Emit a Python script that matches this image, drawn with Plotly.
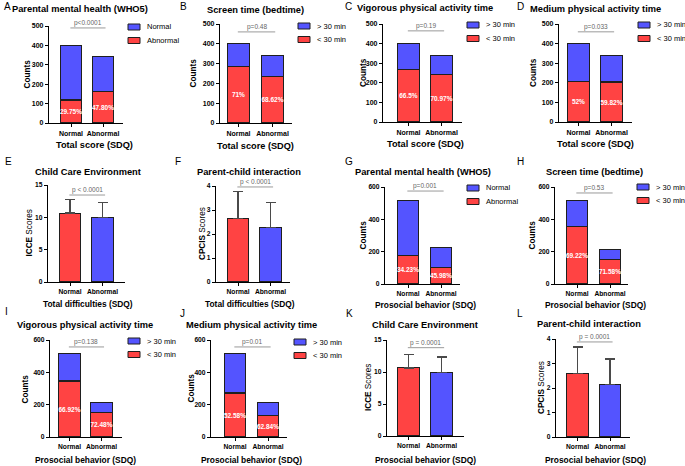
import plotly.graph_objects as go

W, H = 685, 466
RED = "#FF4343"
BLUE = "#5454FF"
EDGE = "#1f1f1f"
FONT = "Liberation Sans, Arial, sans-serif"

categories = ["Normal", "Abnormal"]

# ---- stacked count panels: totals and lower (red) segment ----
A_total = [400, 341]; A_red = [119, 163]; A_pct = ["29.75%", "47.80%"]
B_total = [400, 341]; B_red = [284, 234]; B_pct = ["71%", "68.62%"]
C_total = [400, 341]; C_red = [266, 242]; C_pct = ["66.5%", "70.97%"]
D_total = [400, 341]; D_red = [208, 204]; D_pct = ["52%", "59.82%"]
G_total = [517, 224]; G_red = [177, 103]; G_pct = ["34.23%", "45.98%"]
H_total = [517, 215]; H_red = [358, 154]; H_pct = ["69.22%", "71.58%"]
I_total = [517, 212]; I_red = [346, 154]; I_pct = ["66.92%", "72.48%"]
J_total = [517, 212]; J_red = [272, 133]; J_pct = ["52.58%", "62.84%"]

# ---- mean +/- SD panels ----
E_mean = [10.65, 10.0]; E_sd = [2.15, 2.3]
F_mean = [2.65, 2.28]; F_sd = [1.13, 1.03]
K_mean = [10.65, 9.9]; K_sd = [2.1, 2.45]
L_mean = [2.6, 2.15]; L_sd = [1.07, 1.04]

# p-values
p_text = {"A": "p<0.0001", "B": "p=0.48", "C": "p=0.19", "D": "p=0.033",
          "E": "p < 0.0001", "F": "p < 0.0001", "G": "p=0.001", "H": "p=0.53",
          "I": "p=0.138", "J": "p=0.01", "K": "p = 0.0001", "L": "p = 0.0001"}

# ---- panel layout (pixel geometry) ----
panels = [
    dict(k="A", kind="stack", total=A_total, red=A_red, pct=A_pct, names=["Abnormal", "Normal"],
         title="Parental mental health (WHO5)", xt="Total score (SDQ)", yt="<b>Counts</b>",
         axL=49, axR=123, cN=71, cA=103, top=26, bot=123, ymax=500, dt=100,
         tx=80, ty=9, lx=2, ly=7, xtx=94, xty=145, ytx=27, leg=(128, 27), sig=490, xts=9.2),
    dict(k="B", kind="stack", total=B_total, red=B_red, pct=B_pct, names=["< 30 min", "> 30 min"],
         title="Screen time (bedtime)", xt="Total score (SDQ)", yt="<b>Counts</b>",
         axL=220, axR=292, cN=238.5, cA=272.5, top=24, bot=123, ymax=500, dt=100,
         tx=255, ty=10, lx=178, ly=6, xtx=255, xty=146, ytx=193, leg=(298, 26), sig=460, xts=9.2),
    dict(k="C", kind="stack", total=C_total, red=C_red, pct=C_pct, names=["< 30 min", "> 30 min"],
         title="Vigorous physical activity time", xt="Total score (SDQ)", yt="<b>Counts</b>",
         axL=383, axR=462, cN=408.5, cA=441.5, top=24, bot=122, ymax=500, dt=100,
         tx=425, ty=8, lx=343, ly=6, xtx=425, xty=144, ytx=364, leg=(467, 25), sig=465, xts=9.2),
    dict(k="D", kind="stack", total=D_total, red=D_red, pct=D_pct, names=["< 30 min", "> 30 min"],
         title="Medium physical activity time", xt="Total score (SDQ)", yt="<b>Counts</b>",
         axL=559, axR=632, cN=578.5, cA=611.5, top=24, bot=122, ymax=500, dt=100,
         tx=595, ty=9, lx=515, ly=6, xtx=595, xty=144, ytx=534, leg=(638, 25), sig=460, xts=9.2),
    dict(k="E", kind="mean", mean=E_mean, sd=E_sd,
         title="Child Care Environment", xt="Total difficulties (SDQ)", yt="<b>ICCE</b> Scores",
         axL=48, axR=125, cN=70, cA=102.5, top=185, bot=282, ymax=15, dt=5,
         tx=88, ty=172, lx=3, ly=162, xtx=88, xty=304, ytx=29, leg=None, sig=13.45, xts=8.4),
    dict(k="F", kind="mean", mean=F_mean, sd=F_sd,
         title="Parent-child interaction", xt="Total difficulties (SDQ)", yt="<b>CPCIS</b> Scores",
         axL=216, axR=290, cN=238, cA=270.5, top=186, bot=282, ymax=4, dt=1,
         tx=249, ty=172, lx=173, ly=162, xtx=250, xty=304, ytx=202, leg=None, sig=3.96, xts=8.4),
    dict(k="G", kind="stack", total=G_total, red=G_red, pct=G_pct, names=["Abnormal", "Normal"],
         title="Parental mental health (WHO5)", xt="Prosocial behavior (SDQ)", yt="<b>Counts</b>",
         axL=385, axR=460, cN=408, cA=441, top=187, bot=284, ymax=600, dt=200,
         tx=423, ty=172, lx=343, ly=161, xtx=425, xty=305, ytx=363, leg=(467, 188), sig=575, xts=8.4),
    dict(k="H", kind="stack", total=H_total, red=H_red, pct=H_pct, names=["< 30 min", "> 30 min"],
         title="Screen time (bedtime)", xt="Prosocial behavior (SDQ)", yt="<b>Counts</b>",
         axL=555, axR=628, cN=577, cA=610, top=187, bot=284, ymax=600, dt=200,
         tx=594, ty=172, lx=515, ly=161, xtx=595, xty=305, ytx=532, leg=(637, 187), sig=563, xts=8.4),
    dict(k="I", kind="stack", total=I_total, red=I_red, pct=I_pct, names=["< 30 min", "> 30 min"],
         title="Vigorous physical activity time", xt="Prosocial behavior (SDQ)", yt="<b>Counts</b>",
         axL=50, axR=122, cN=69.5, cA=101.5, top=340, bot=437, ymax=600, dt=200,
         tx=85, ty=325, lx=3, ly=311, xtx=85, xty=460, ytx=25, leg=(128, 341), sig=557, xts=8.4),
    dict(k="J", kind="stack", total=J_total, red=J_red, pct=J_pct, names=["< 30 min", "> 30 min"],
         title="Medium physical activity time", xt="Prosocial behavior (SDQ)", yt="<b>Counts</b>",
         axL=211, axR=287, cN=235, cA=268, top=340, bot=437, ymax=600, dt=200,
         tx=251, ty=325, lx=178, ly=313, xtx=252, xty=460, ytx=191, leg=(294, 342), sig=557, xts=8.4),
    dict(k="K", kind="mean", mean=K_mean, sd=K_sd,
         title="Child Care Environment", xt="Prosocial behavior (SDQ)", yt="<b>ICCE</b> Scores",
         axL=387, axR=464, cN=408.5, cA=441.5, top=340, bot=436, ymax=15, dt=5,
         tx=425, ty=325, lx=344, ly=313, xtx=425, xty=460, ytx=368, leg=None, sig=13.8, xts=8.4),
    dict(k="L", kind="mean", mean=L_mean, sd=L_sd,
         title="Parent-child interaction", xt="Prosocial behavior (SDQ)", yt="<b>CPCIS</b> Scores",
         axL=556, axR=630, cN=577.5, cA=610, top=339, bot=437, ymax=4, dt=1,
         tx=589, ty=324, lx=515, ly=313, xtx=595, xty=460, ytx=541, leg=None, sig=3.88, xts=8.4),
]

fig = go.Figure()
annotations = []
shapes = []
layout = {}


def fx(px):
    return px / W


def fy(py):
    return 1 - py / H


for i, p in enumerate(panels, start=1):
    sfx = "" if i == 1 else str(i)
    xref, yref = "x" + sfx, "y" + sfx
    unit = p["cA"] - p["cN"]
    xr = [(p["axL"] - p["cN"]) / unit, (p["axR"] - p["cN"]) / unit]
    bw = 21.5 / unit

    if p["kind"] == "stack":
        blue_vals = [t - r for t, r in zip(p["total"], p["red"])]
        fig.add_trace(go.Bar(
            x=categories, y=p["red"], name=p["names"][0], width=bw,
            marker=dict(color=RED, line=dict(color=EDGE, width=1.2)),
            text=p["pct"], textposition="inside", insidetextanchor="middle",
            textangle=0, constraintext="none",
            textfont=dict(family=FONT, size=6.5, color="white", weight="bold"),
            xaxis=xref, yaxis=yref, showlegend=False))
        fig.add_trace(go.Bar(
            x=categories, y=blue_vals, name=p["names"][1], width=bw,
            marker=dict(color=BLUE, line=dict(color=EDGE, width=1.2)),
            xaxis=xref, yaxis=yref, showlegend=False))
        # key: top entry = upper (blue) series, bottom entry = lower (red) series
        lx, ly = p["leg"]
        for j, (col, nm) in enumerate([(BLUE, p["names"][1]), (RED, p["names"][0])]):
            cy = ly + j * 13.5
            shapes.append(dict(type="rect", xref="paper", yref="paper",
                               x0=fx(lx), x1=fx(lx + 12), y0=fy(cy + 3), y1=fy(cy - 3),
                               fillcolor=col, line=dict(color=EDGE, width=1)))
            annotations.append(dict(text=nm, xref="paper", yref="paper",
                                    x=fx(lx + 17), y=fy(cy), xanchor="left", yanchor="middle",
                                    showarrow=False,
                                    font=dict(family=FONT, size=7.5, color="black")))
    else:
        fig.add_trace(go.Bar(
            x=categories, y=p["mean"], width=bw,
            marker=dict(color=[RED, BLUE], line=dict(color=EDGE, width=1.2)),
            error_y=dict(type="data", symmetric=False, array=p["sd"], arrayminus=[0, 0],
                         color="#4a4a4a", thickness=1.4, width=5),
            xaxis=xref, yaxis=yref, showlegend=False))

    axcommon = dict(showline=True, linecolor="black", linewidth=1.2, ticks="outside",
                    ticklen=3, tickwidth=1.2, tickcolor="black", showgrid=False,
                    zeroline=False, automargin=False,
                    tickfont=dict(family=FONT, size=7 if i <= 4 else 6.7, color="black", weight="bold"))
    layout["xaxis" + sfx] = dict(axcommon, domain=[fx(p["axL"]), fx(p["axR"])],
                                 range=xr, anchor=yref, type="category")
    layout["yaxis" + sfx] = dict(axcommon, domain=[fy(p["bot"]), fy(p["top"])],
                                 range=[0, p["ymax"]], dtick=p["dt"], anchor=xref)

    # significance bar
    shapes.append(dict(type="line", xref=xref, yref=yref, x0=-0.02, x1=1.08,
                       y0=p["sig"], y1=p["sig"], line=dict(color="#9a9a9a", width=1)))
    annotations.append(dict(text=p_text[p["k"]], xref=xref, yref=yref, x=0.53, y=p["sig"],
                            xanchor="center", yanchor="bottom", showarrow=False, yshift=-1,
                            font=dict(family=FONT, size=6.5, color="#666666")))
    # panel title
    annotations.append(dict(text="<b>" + p["title"] + "</b>", xref="paper", yref="paper",
                            x=fx(p["tx"]), y=fy(p["ty"]), xanchor="center", yanchor="middle",
                            showarrow=False, font=dict(family=FONT, size=9.3, color="black")))
    # panel letter
    annotations.append(dict(text=p["k"], xref="paper", yref="paper",
                            x=fx(p["lx"]), y=fy(p["ly"]), xanchor="left", yanchor="middle",
                            showarrow=False, font=dict(family=FONT, size=10, color="black")))
    # x axis title
    annotations.append(dict(text="<b>" + p["xt"] + "</b>", xref="paper", yref="paper",
                            x=fx(p["xtx"]), y=fy(p["xty"]), xanchor="center", yanchor="middle",
                            showarrow=False, font=dict(family=FONT, size=p["xts"], color="black")))
    # y axis title
    annotations.append(dict(text=p["yt"], xref="paper", yref="paper", textangle=-90,
                            x=fx(p["ytx"]), y=fy((p["top"] + p["bot"]) / 2),
                            xanchor="center", yanchor="middle", showarrow=False,
                            font=dict(family=FONT, size=8.2, color="black")))

fig.update_layout(
    width=W, height=H, margin=dict(l=0, r=0, t=0, b=0, autoexpand=False),
    paper_bgcolor="white", plot_bgcolor="white", barmode="stack", showlegend=False,
    font=dict(family=FONT, color="black"),
    annotations=annotations, shapes=shapes, **layout)

fig.write_html("out.html", config={"displayModeBar": False},
               post_script="document.body.style.margin='0';document.body.style.overflow='hidden';")
